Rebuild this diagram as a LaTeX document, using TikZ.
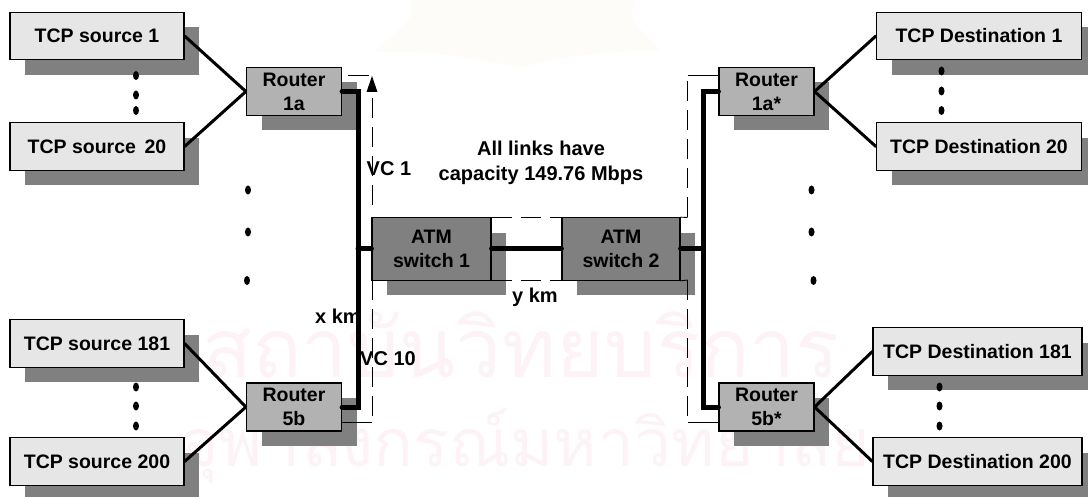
\documentclass[tikz,border=0pt]{standalone}
\usepackage{xcolor,tikz,fontspec}
\usetikzlibrary{arrows.meta,shadows}
\setmainfont{Liberation Sans}
\newfontfamily\thaifont[Script=Thai]{Loma}
\definecolor{pale}{RGB}{230,230,230}
\definecolor{mid}{RGB}{178,178,178}
\definecolor{dark}{RGB}{128,128,128}
\definecolor{mark}{RGB}{253,243,246}
\definecolor{crest}{RGB}{254,252,248}
\tikzset{
  box/.style={draw=black,line width=1.2pt,anchor=center,align=center,inner sep=0pt,font=\fontsize{19.5}{24}\selectfont\bfseries,
    general shadow={shadow xshift=15pt,shadow yshift=-15pt,fill=dark}},
  tcp/.style={box,fill=pale,minimum height=47.5pt},
  router/.style={box,fill=mid,minimum width=95pt,minimum height=48pt},
  atm/.style={box,fill=dark,minimum height=62.5pt},
  link/.style={line width=3pt,line cap=round},
  bus/.style={line width=5pt,line cap=round,line join=miter},
  vc/.style={line width=.9pt,dash pattern=on 20pt off 9pt},
  solidvc/.style={line width=.9pt},
  lab/.style={font=\fontsize{20}{25}\selectfont\bfseries,align=center,inner sep=0pt},
  wm/.style={text=mark,inner sep=0pt}
}
\begin{document}
\begin{tikzpicture}[x=1pt,y=-1pt]
  \useasboundingbox (0,0) rectangle (1088,497);
  \fill[crest] (410,0) .. controls (420,25) and (385,35) .. (375,52) .. controls (410,52) and (440,50) .. (518,68) .. controls (590,50) and (630,52) .. (660,50) .. controls (650,35) and (625,25) .. (635,0) -- cycle;
  \node[wm,font=\fontsize{82}{82}\selectfont\thaifont] (wmtop) at (521,345) {สถาบันวิทยบริการ};
  \node[wm,font=\fontsize{66}{66}\selectfont\thaifont] (wmbottom) at (525,446) {จุฬาลงกรณ์มหาวิทยาลัย};

  \node[tcp,minimum width=174pt] (src1) at (97,36) {TCP source 1};
  \node[tcp,minimum width=174pt] (src20) at (97,146.5) {TCP source\, 20};
  \node[tcp,minimum width=174pt] (src181) at (97,343.5) {TCP source 181};
  \node[tcp,minimum width=174pt] (src200) at (97,461.5) {TCP source 200};
  \node[tcp,minimum width=205pt] (dst1) at (979,36) {TCP Destination 1};
  \node[tcp,minimum width=205pt] (dst20) at (979,146.5) {TCP Destination 20};
  \node[tcp,minimum width=209pt] (dst181) at (977.5,351.5) {TCP Destination 181};
  \node[tcp,minimum width=209pt] (dst200) at (977.5,461.5) {TCP Destination 200};

  \node[router] (r1a) at (294,91.5) {Router\\1a};
  \node[router] (r5b) at (294,407) {Router\\5b};
  \node[router] (r1as) at (766.5,91.5) {Router\\1a*};
  \node[router] (r5bs) at (766.5,407) {Router\\5b*};
  \node[atm,minimum width=119pt] (atm1) at (431.5,249) {ATM\\switch 1};
  \node[atm,minimum width=118pt] (atm2) at (621,249) {ATM\\switch 2};

  \foreach \a/\b in {src1/r1a,src20/r1a,src181/r5b,src200/r5b}{\draw[link] (\a.east)--(\b.west);}
  \foreach \a/\b in {r1as/dst1,r1as/dst20,r5bs/dst181,r5bs/dst200}{\draw[link] (\a.east)--(\b.west);}

  \coordinate (busl) at (358,249);
  \coordinate (busr) at (703,249);
  \draw[bus] (r1a.east) -| (busl) |- (r5b.east);
  \draw[bus] (r1as.west) -| (busr) |- (r5bs.west);
  \draw[bus] (busl)--(atm1.west);
  \draw[bus] (atm1.east)--(atm2.west);
  \draw[bus] (atm2.east)--(busr);

  \coordinate (vctop) at (372,92);
  \coordinate (vcmid) at (372,205);
  \coordinate (vclow) at (372,280);
  \coordinate (vcbot) at (372,422.5);
  \coordinate (vdtop) at (687.5,75.5);
  \coordinate (vdmid) at (687.5,217.5);
  \coordinate (vdlow) at (687.5,280);
  \coordinate (vdbot) at (687.5,422.5);
  \draw[vc] (vcmid)--(vctop);
  \fill (372,76)--(377.5,92)--(366.5,92)--cycle;
  \draw[solidvc] (348,75.5)--(369,75.5);
  \draw[vc] (vclow)--(vcbot);
  \draw[solidvc] (r5b.east|-vcbot)--(vcbot);
  \draw[vc] (atm1.north east)--(atm2.north west);
  \draw[vc] (atm1.south east)--(atm2.south west);
  \draw[solidvc] (atm2.north east)--(vdmid);
  \draw[vc] (vdmid)--(vdtop);
  \draw[solidvc] (vdtop)--(r1as.west|-vdtop);
  \draw[solidvc] (atm2.south east)--(vdlow);
  \draw[vc] (vdlow)--(vdbot);
  \draw[solidvc] (vdbot)--(r5bs.west|-vdbot);

  \foreach \x/\y in {136/75.5,136/95,136/110.5,136/387,136/406,136/426,248/190,248/232,247/280.5,941.5/71,941.5/91,941.5/110.5,939.5/387,939.5/406,939.5/426,811.5/190,811.5/232,813.5/280.5}{
    \fill (\x,\y) ellipse (3pt and 4.5pt);
  }

  \node[lab] (note) at (541,162.5) {All links have\\capacity 149.76 Mbps};
  \node[lab,anchor=west] (vc1) at (366.5,169) {VC 1};
  \node[lab,anchor=west] (vc10) at (360,359) {VC 10};
  \node[lab,anchor=west] (xkm) at (315,316) {x km};
  \node[lab,anchor=west] (ykm) at (512,297) {y km};
\end{tikzpicture}
\end{document}
